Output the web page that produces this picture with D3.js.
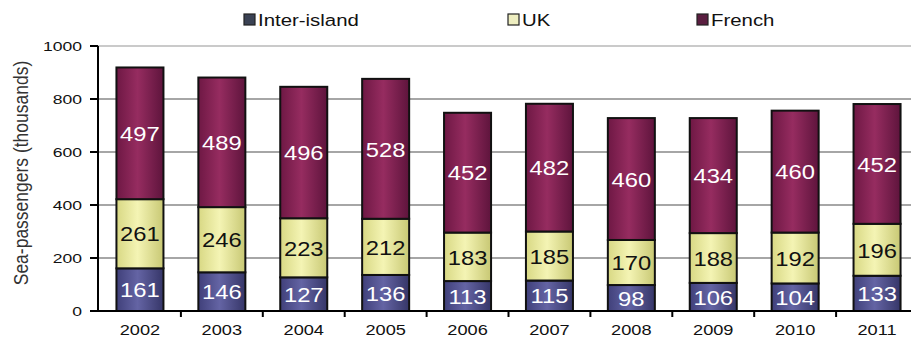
<!DOCTYPE html>
<html>
<head>
<meta charset="utf-8">
<script src="https://cdn.jsdelivr.net/npm/d3@7"></script>
<style>
  body { margin: 0; background: #fff; }
  svg { display: block; font-family: "Liberation Sans", Arial, sans-serif; }
</style>
</head>
<body>
<div id="chart"></div>
<script>
var years = ["2002", "2003", "2004", "2005", "2006", "2007", "2008", "2009", "2010", "2011"];
var interIsland = [161, 146, 127, 136, 113, 115, 98, 106, 104, 133];
var uk = [261, 246, 223, 212, 183, 185, 170, 188, 192, 196];
var french = [497, 489, 496, 528, 452, 482, 460, 434, 460, 452];
var seriesNames = ["Inter-island", "UK", "French"];
var yTicks = [0, 200, 400, 600, 800, 1000];

var width = 911, height = 341;

var svg = d3.select("#chart")
  .append("svg")
  .attr("width", width)
  .attr("height", height);

// gradients for the bars
var defs = svg.append("defs");
var grads = [
  {id: "g-inter", stops: ["#40407a", "#6464a4", "#363668"]},
  {id: "g-uk", stops: ["#d8d884", "#f4f4b4", "#c8c874"]},
  {id: "g-french", stops: ["#6e1844", "#962c60", "#5e143c"]}
];
grads.forEach(function(g) {
  var lg = defs.append("linearGradient").attr("id", g.id)
    .attr("x1", "0%").attr("x2", "100%").attr("y1", "0%").attr("y2", "0%");
  lg.append("stop").attr("offset", "0%").attr("stop-color", g.stops[0]);
  lg.append("stop").attr("offset", "45%").attr("stop-color", g.stops[1]);
  lg.append("stop").attr("offset", "100%").attr("stop-color", g.stops[2]);
});

var x = d3.scaleBand()
  .domain(years)
  .range([99, 918])
  .paddingInner(0.426)
  .paddingOuter(0.213);

var y = d3.scaleLinear()
  .domain([0, 1000])
  .range([311, 46]);

// stretched text helper (source picture is widened horizontally)
function label(g, px, py, txt, size, sx, anchor, fill) {
  return g.append("text")
    .attr("transform", "translate(" + px + "," + py + ") scale(" + sx + ",1)")
    .attr("text-anchor", anchor)
    .attr("dominant-baseline", "central")
    .style("font-size", size + "px")
    .style("fill", fill)
    .text(txt);
}

// gridlines
svg.append("g")
  .selectAll("line")
  .data(yTicks.filter(function(d) { return d > 0; }))
  .enter()
  .append("line")
  .attr("x1", 98).attr("x2", width)
  .attr("y1", function(d) { return y(d); })
  .attr("y2", function(d) { return y(d); })
  .style("stroke", function(d) { return d === 1000 ? "#b8b8b8" : "#a6a6a6"; })
  .style("stroke-width", function(d) { return d === 1000 ? 1.5 : 2; });

// stacked bars
var stacked = years.map(function(yr, i) {
  return [
    {key: "inter", y0: 0, y1: interIsland[i], v: interIsland[i], fill: "url(#g-inter)", color: "#fff"},
    {key: "uk", y0: interIsland[i], y1: interIsland[i] + uk[i], v: uk[i], fill: "url(#g-uk)", color: "#111"},
    {key: "french", y0: interIsland[i] + uk[i], y1: interIsland[i] + uk[i] + french[i], v: french[i], fill: "url(#g-french)", color: "#fff"}
  ].map(function(s) { s.year = yr; return s; });
});

var barG = svg.append("g");
stacked.forEach(function(segs) {
  segs.forEach(function(s) {
    barG.append("rect")
      .attr("x", x(s.year))
      .attr("y", y(s.y1))
      .attr("width", x.bandwidth())
      .attr("height", y(s.y0) - y(s.y1))
      .style("fill", s.fill)
      .style("stroke", "#111")
      .style("stroke-width", 2);
  });
});
stacked.forEach(function(segs) {
  segs.forEach(function(s) {
    label(barG, x(s.year) + x.bandwidth() / 2, y((s.y0 + s.y1) / 2) + 1, s.v, 19.5, 1.22, "middle", s.color);
  });
});

// y axis
var yAxis = svg.append("g");
yAxis.append("line")
  .attr("x1", 98).attr("x2", 98).attr("y1", y(1000)).attr("y2", y(0))
  .style("stroke", "#000").style("stroke-width", 2);
yTicks.forEach(function(t) {
  yAxis.append("line")
    .attr("x1", 90).attr("x2", 98).attr("y1", y(t)).attr("y2", y(t))
    .style("stroke", "#000").style("stroke-width", 2);
  label(yAxis, 82, y(t), t, 13, 1.35, "end", "#111");
});

// x axis
var xAxis = svg.append("g");
xAxis.append("line")
  .attr("x1", 98).attr("x2", width).attr("y1", y(0)).attr("y2", y(0))
  .style("stroke", "#000").style("stroke-width", 2);
years.forEach(function(yr, i) {
  if (i > 0) {
    var tx = x(yr) - x.step() * x.paddingInner() / 2;
    xAxis.append("line")
      .attr("x1", tx).attr("x2", tx).attr("y1", y(0)).attr("y2", y(0) + 6)
      .style("stroke", "#000").style("stroke-width", 2);
  }
  label(xAxis, x(yr) + x.bandwidth() / 2, 330, yr, 14, 1.3, "middle", "#111");
});

// axis title
svg.append("text")
  .attr("transform", "translate(21,173) scale(1.2,1) rotate(-90)")
  .attr("text-anchor", "middle")
  .attr("dominant-baseline", "central")
  .style("font-size", "17.5px")
  .style("fill", "#333")
  .text("Sea-passengers (thousands)");

// legend
var legendFills = ["#3a4254", "#eeeec0", "#5a1e40"];
var legendX = [244, 508, 697];
var legend = svg.append("g");
seriesNames.forEach(function(name, i) {
  legend.append("rect")
    .attr("x", legendX[i]).attr("y", 14)
    .attr("width", 11).attr("height", 11)
    .style("fill", legendFills[i])
    .style("stroke", "#222").style("stroke-width", 1.2);
  label(legend, legendX[i] + 14, 20, name, 17, 1.2, "start", "#111");
});
</script>
</body>
</html>
